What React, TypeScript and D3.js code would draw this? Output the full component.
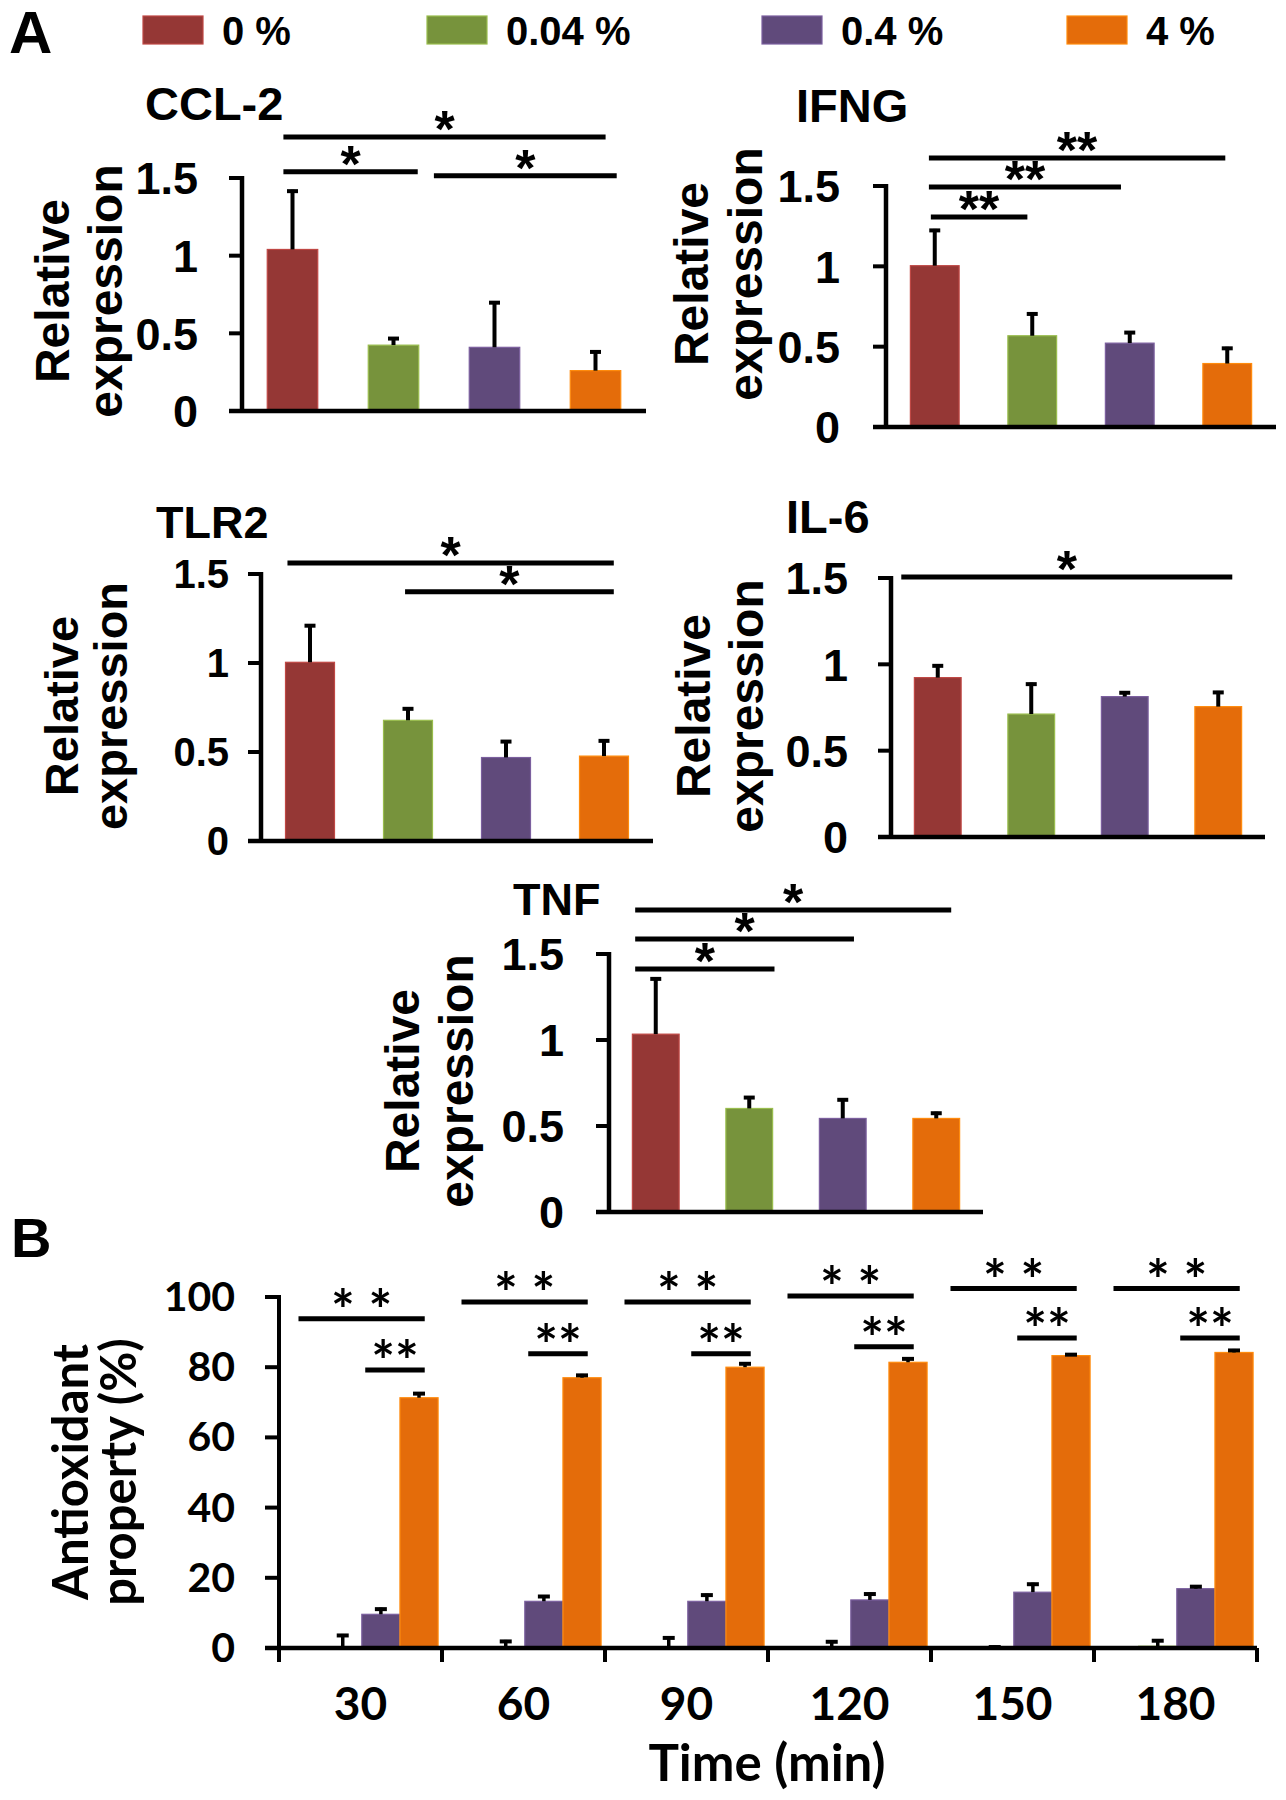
import React, { useEffect, useRef } from 'react';
import * as d3 from 'd3';

const ARIAL = "'Liberation Sans', Arial, sans-serif";
const CALIBRI = "Lato, 'Open Sans', sans-serif";

const groups = ["0 %", "0.04 %", "0.4 %", "4 %"];
const colors = ["#953735", "#77933c", "#604a7b", "#e46c0a"];
const relTicks = [0, 0.5, 1, 1.5];

// panel A: relative expression per gene (mean, error)
const ccl2Values = [1.04, 0.424, 0.41, 0.26];
const ccl2Errors = [0.385, 0.052, 0.297, 0.13];
const ifngValues = [1.004, 0.568, 0.522, 0.395];
const ifngErrors = [0.229, 0.145, 0.075, 0.104];
const tlr2Values = [1.004, 0.678, 0.469, 0.477];
const tlr2Errors = [0.214, 0.073, 0.098, 0.094];
const il6Values = [0.923, 0.712, 0.813, 0.755];
const il6Errors = [0.077, 0.182, 0.031, 0.091];
const tnfValues = [1.034, 0.602, 0.544, 0.544];
const tnfErrors = [0.33, 0.072, 0.117, 0.039];

// significance lines: [from slot, to slot, height, label] in band units / data units
const ccl2Sig = [[0.41, 3.6, 1.764, "*"], [0.41, 1.74, 1.54, "*"], [1.9, 3.71, 1.515, "*"]];
const ifngSig = [[0.44, 3.48, 1.675, "**"], [0.44, 2.41, 1.494, "**"], [0.46, 1.45, 1.307, "**"]];
const tlr2Sig = [[0.27, 3.6, 1.562, "*"], [1.47, 3.6, 1.4, "*"]];
const il6Sig = [[0.11, 3.65, 1.506, "*"]];
const tnfSig = [[0.28, 3.66, 1.756, "*"], [0.28, 2.62, 1.587, "*"], [0.28, 1.77, 1.413, "*"]];

// panel B: antioxidant property over time
const times = ["30", "60", "90", "120", "150", "180"];
const bTicks = [0, 20, 40, 60, 80, 100];
const bRed = [0, 0, 0, 0, 0, 0];
const bRedErr = [0, 0, 0, 0, 0, 0];
const bGreen = [0, 0, 0, 0, 0, 0.5];
const bGreenErr = [4.0, 2.3, 3.3, 2.2, 0.7, 2.0];
const bPurple = [9.6, 13.3, 13.3, 13.7, 15.9, 16.9];
const bPurpleErr = [1.9, 1.8, 2.2, 2.1, 2.7, 1.0];
const bOrange = [71.3, 77.0, 80.0, 81.4, 83.3, 84.2];
const bOrangeErr = [1.6, 1.1, 1.4, 1.4, 0.7, 1.0];
const bUpperSig = [93.8, 98.6, 98.6, 100.3, 102.4, 102.4];
const bLowerSig = [79.2, 83.8, 83.8, 85.8, 88.3, 88.3];

const panels = [
  { title: "CCL-2", values: ccl2Values, errors: ccl2Errors, sig: ccl2Sig,
    axisX: 242, xEnd: 646, yTop: 178, yBot: 411, titleX: 145, titleY: 120, titleSize: 47,
    labelX: [69, 122], labelY: 291, labelSize: 48, tickSize: 45, tickGap: 44 },
  { title: "IFNG", values: ifngValues, errors: ifngErrors, sig: ifngSig,
    axisX: 886, xEnd: 1276, yTop: 186, yBot: 427, titleX: 796, titleY: 122, titleSize: 47,
    labelX: [708, 762], labelY: 274, labelSize: 48, tickSize: 45, tickGap: 46 },
  { title: "TLR2", values: tlr2Values, errors: tlr2Errors, sig: tlr2Sig,
    axisX: 261, xEnd: 653, yTop: 574, yBot: 841, titleX: 156, titleY: 538, titleSize: 45,
    labelX: [78, 127], labelY: 706, labelSize: 47, tickSize: 40, tickGap: 32 },
  { title: "IL-6", values: il6Values, errors: il6Errors, sig: il6Sig,
    axisX: 891, xEnd: 1265, yTop: 578, yBot: 837, titleX: 786, titleY: 533, titleSize: 47,
    labelX: [710, 763], labelY: 706, labelSize: 48, tickSize: 45, tickGap: 43 },
  { title: "TNF", values: tnfValues, errors: tnfErrors, sig: tnfSig,
    axisX: 609, xEnd: 983, yTop: 954, yBot: 1212, titleX: 513, titleY: 915, titleSize: 45,
    labelX: [419, 473], labelY: 1081, labelSize: 48, tickSize: 45, tickGap: 45 },
];

function drawPanel(svg, p) {
  const y = d3.scaleLinear().domain([0, 1.5]).range([p.yBot, p.yTop]);
  const x = d3.scaleBand().domain(groups).range([p.axisX, p.xEnd])
    .paddingInner(0.5).paddingOuter(0.25);
  const g = svg.append("g").attr("font-family", ARIAL).attr("font-weight", "bold");

  g.append("text").attr("x", p.titleX).attr("y", p.titleY)
    .attr("font-size", p.titleSize).text(p.title);

  g.selectAll(".bar").data(p.values).join("rect")
    .attr("x", (d, i) => x(groups[i]))
    .attr("y", d => y(d))
    .attr("width", x.bandwidth())
    .attr("height", d => y(0) - y(d))
    .attr("fill", (d, i) => colors[i])
    .attr("stroke", (d, i) => d3.color(colors[i]).brighter(0.7))
    .attr("stroke-width", 1.2);

  p.values.forEach((v, i) => {
    const cx = x(groups[i]) + x.bandwidth() / 2;
    const top = y(v + p.errors[i]);
    g.append("line").attr("x1", cx).attr("x2", cx).attr("y1", y(v)).attr("y2", top)
      .attr("stroke", "black").attr("stroke-width", 4);
    g.append("line").attr("x1", cx - 5.5).attr("x2", cx + 5.5).attr("y1", top + 1.5).attr("y2", top + 1.5)
      .attr("stroke", "black").attr("stroke-width", 4);
  });

  // axes
  g.append("line").attr("x1", p.axisX).attr("x2", p.axisX).attr("y1", y(1.5) - 2).attr("y2", y(0))
    .attr("stroke", "black").attr("stroke-width", 4.5);
  g.append("line").attr("x1", p.axisX - 13).attr("x2", p.xEnd).attr("y1", y(0)).attr("y2", y(0))
    .attr("stroke", "black").attr("stroke-width", 4.5);
  relTicks.forEach(t => {
    g.append("line").attr("x1", p.axisX - 13).attr("x2", p.axisX).attr("y1", y(t)).attr("y2", y(t))
      .attr("stroke", "black").attr("stroke-width", 4);
    g.append("text").attr("x", p.axisX - p.tickGap).attr("y", y(t) + p.tickSize * 0.36)
      .attr("text-anchor", "end").attr("font-size", p.tickSize).text(String(t));
  });

  ["Relative", "expression"].forEach((s, i) => {
    g.append("text").attr("transform", `translate(${p.labelX[i]},${p.labelY}) rotate(-90)`)
      .attr("text-anchor", "middle").attr("font-size", p.labelSize).text(s);
  });

  const step = x.step();
  p.sig.forEach(([s0, s1, h, label]) => {
    const x0 = p.axisX + s0 * step;
    const x1 = p.axisX + s1 * step;
    g.append("line").attr("x1", x0).attr("x2", x1).attr("y1", y(h)).attr("y2", y(h))
      .attr("stroke", "black").attr("stroke-width", 5);
    g.append("text").attr("x", (x0 + x1) / 2).attr("y", y(h) + 10)
      .attr("text-anchor", "middle").attr("font-size", 52).text(label);
  });
}

function drawPanelB(svg) {
  const axisX = 279, xEnd = 1257, yBot = 1648, yTop = 1297;
  const y = d3.scaleLinear().domain([0, 100]).range([yBot, yTop]);
  const x = d3.scaleBand().domain(times).range([axisX, xEnd]).padding(0);
  const bw = x.bandwidth();
  const inner = d3.scaleBand().domain(groups).range([bw * 0.04, bw * 0.976]).padding(0);
  const series = [
    [bRed, bRedErr], [bGreen, bGreenErr], [bPurple, bPurpleErr], [bOrange, bOrangeErr],
  ];
  const g = svg.append("g").attr("font-family", CALIBRI).attr("font-weight", "bold");

  series.forEach(([vals, errs], si) => {
    g.selectAll(".b" + si).data(vals).join("rect")
      .attr("x", (d, i) => x(times[i]) + inner(groups[si]))
      .attr("y", d => y(d))
      .attr("width", inner.bandwidth())
      .attr("height", d => y(0) - y(d))
      .attr("fill", colors[si])
      .attr("stroke", d => d > 0.2 ? d3.color(colors[si]).brighter(0.7) : "none")
      .attr("stroke-width", 1.2);
    vals.forEach((v, i) => {
      if (!errs[i]) return;
      const cx = x(times[i]) + inner(groups[si]) + inner.bandwidth() / 2;
      const top = y(v + errs[i]);
      g.append("line").attr("x1", cx).attr("x2", cx).attr("y1", y(v)).attr("y2", top)
        .attr("stroke", "black").attr("stroke-width", 3.5);
      g.append("line").attr("x1", cx - 6).attr("x2", cx + 6).attr("y1", top + 1.5).attr("y2", top + 1.5)
        .attr("stroke", "black").attr("stroke-width", 4);
    });
  });

  // axes
  g.append("line").attr("x1", axisX).attr("x2", axisX).attr("y1", y(100) - 2).attr("y2", yBot + 14)
    .attr("stroke", "black").attr("stroke-width", 4);
  g.append("line").attr("x1", axisX - 14).attr("x2", xEnd).attr("y1", yBot).attr("y2", yBot)
    .attr("stroke", "black").attr("stroke-width", 4.5);
  bTicks.forEach(t => {
    g.append("line").attr("x1", axisX - 14).attr("x2", axisX).attr("y1", y(t)).attr("y2", y(t))
      .attr("stroke", "black").attr("stroke-width", 4);
    g.append("text").attr("x", axisX - 44).attr("y", y(t) + 14)
      .attr("text-anchor", "end").attr("font-size", 41).text(String(t));
  });
  times.forEach((t, i) => {
    const bx = x(t) + bw;
    g.append("line").attr("x1", bx).attr("x2", bx).attr("y1", yBot).attr("y2", yBot + 14)
      .attr("stroke", "black").attr("stroke-width", 4);
    g.append("text").attr("x", x(t) + bw / 2).attr("y", 1720)
      .attr("text-anchor", "middle").attr("font-size", 46).text(t);

    const slot = inner.bandwidth();
    const upper = [0.34, 3.65].map(s => x(t) + bw * 0.04 + s * slot);
    const lower = [2.09, 3.65].map(s => x(t) + bw * 0.04 + s * slot);
    [[upper, bUpperSig[i], "* *"], [lower, bLowerSig[i], "**"]].forEach(([[x0, x1], h, label]) => {
      g.append("line").attr("x1", x0).attr("x2", x1).attr("y1", y(h)).attr("y2", y(h))
        .attr("stroke", "black").attr("stroke-width", 5);
      g.append("text").attr("x", (x0 + x1) / 2).attr("y", y(h) + 11)
        .attr("text-anchor", "middle").attr("font-size", 56).text(label);
    });
  });

  g.append("text").attr("x", 767).attr("y", 1781).attr("text-anchor", "middle")
    .attr("font-size", 51).text("Time (min)");
  ["Antioxidant", "property (%)"].forEach((s, i) => {
    g.append("text").attr("transform", `translate(${[88, 136][i]},1472) rotate(-90)`)
      .attr("text-anchor", "middle").attr("font-size", 49).text(s);
  });
}

const App = () => {
  const svgRef = useRef();

  useEffect(() => {
    const svg = d3.select(svgRef.current);
    svg.selectAll("*").remove();
    svg.attr("viewBox", [0, 0, 1286, 1800]);

    svg.append("rect").attr("width", 1286).attr("height", 1800).attr("fill", "white");

    const top = svg.append("g").attr("font-family", ARIAL).attr("font-weight", "bold");
    top.append("text").attr("x", 9).attr("y", 53).attr("font-size", 60).text("A");
    top.append("text").attr("x", 11).attr("y", 1257).attr("font-size", 56).text("B");

    const legendX = [143, 427, 762, 1067];
    groups.forEach((gname, i) => {
      top.append("rect").attr("x", legendX[i]).attr("y", 16).attr("width", 60).attr("height", 28)
        .attr("fill", colors[i]).attr("stroke", d3.color(colors[i]).brighter(0.7)).attr("stroke-width", 1.2);
      top.append("text").attr("x", legendX[i] + 79).attr("y", 45).attr("font-size", 40).text(gname);
    });

    panels.forEach(p => drawPanel(svg, p));
    drawPanelB(svg);
  }, []);

  return (
    <svg ref={svgRef} width={1286} height={1800}
      style={{ position: "absolute", left: 0, top: 0, display: "block" }}></svg>
  );
};

export default App;
